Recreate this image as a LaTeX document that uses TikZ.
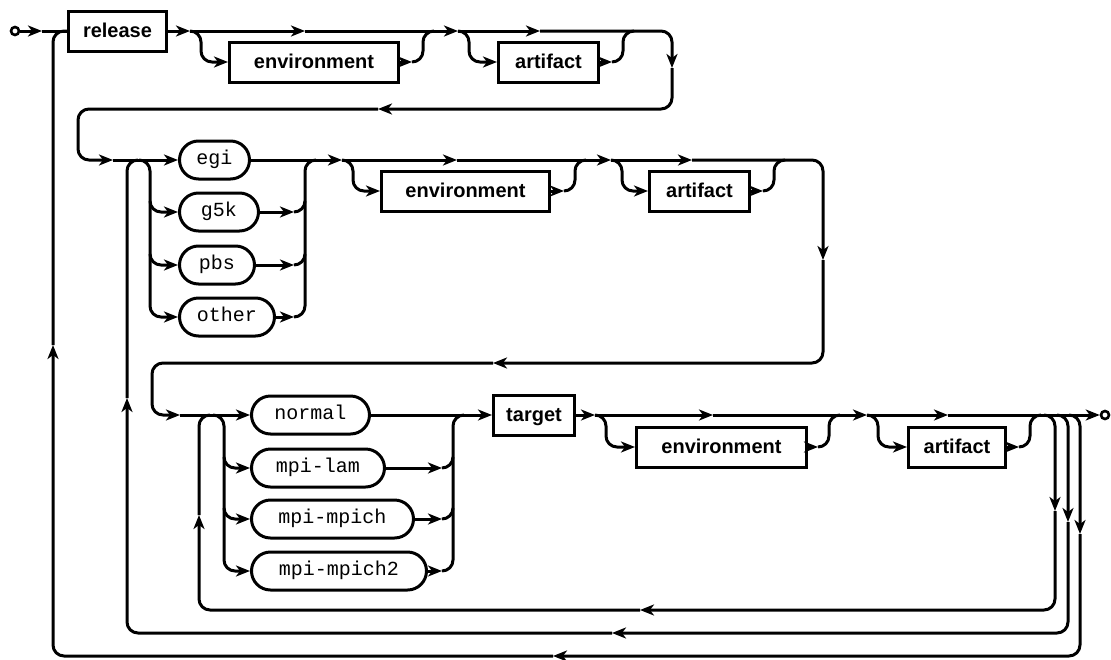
\documentclass[tikz,border=0pt]{standalone}
\usepackage{fontspec}
\newfontfamily\railsans{Liberation Sans}
\newfontfamily\railmono{Liberation Mono}
\usetikzlibrary{arrows.meta}
\tikzset{
  rail/.style={line width=3pt, line join=round},
  railtip/.style={-{Stealth[length=14pt,width=11pt,inset=4pt]}},
  railbend/.style={rounded corners=11pt},
  nt/.style={draw, line width=3pt, minimum height=40pt, inner sep=0pt, anchor=west,
    font=\railsans\bfseries\fontsize{20}{24}\selectfont, text height=15pt, text depth=3pt},
  tm/.style={draw, line width=3pt, rounded corners=19pt, minimum height=38pt, inner sep=0pt, anchor=west,
    font=\railmono\fontsize{20}{24}\selectfont, text height=10pt, text depth=2pt},
  term/.style={circle, draw, line width=2.6pt, fill=white, inner sep=0pt, minimum size=8pt},
}
\begin{document}
\begin{tikzpicture}[x=1pt,y=-1pt]
\useasboundingbox (0,0) rectangle (1111,659);

% ---------- nodes ----------
\node[nt, minimum width=98pt]  (release) at (67,31)  {release};
\node[nt, minimum width=169pt] (envA)    at (228,62) {environment};
\node[nt, minimum width=100pt] (artA)    at (497,62) {artifact};

\node[tm, minimum width=70pt] (egi)   at (178,160) {egi};
\node[tm, minimum width=79pt] (g5k)   at (178,212) {g5k};
\node[tm, minimum width=75pt] (pbs)   at (178,265) {pbs};
\node[tm, minimum width=95pt] (other) at (178,317) {other};
\node[nt, minimum width=168pt] (envB) at (380,191) {environment};
\node[nt, minimum width=100pt] (artB) at (648,191) {artifact};

\node[tm, minimum width=118pt] (normal) at (250,415) {normal};
\node[tm, minimum width=133pt] (lam)    at (250,468) {mpi-lam};
\node[tm, minimum width=162pt] (mpich)  at (250,519) {mpi-mpich};
\node[tm, minimum width=175pt] (mpich2) at (250,571) {mpi-mpich2};
\node[nt, minimum width=81pt]  (target) at (492,415) {target};
\node[nt, minimum width=170pt] (envC)   at (635,447) {environment};
\node[nt, minimum width=97pt]  (artC)   at (907,447) {artifact};

\node[term] (start) at (15,31) {};
\node[term] (stop)  at (1105,415) {};

% ---------- row 1 ----------
\draw[rail, railtip] (start.east) -- (42,31);
\draw[rail] (42,31) -- (release.west);
\draw[rail, railtip] (release.east) -- (190,31);
\draw[rail, railtip] (190,31) -- (305,31);
\draw[rail, railtip] (305,31) -- (458,31);
\draw[rail, railbend, railtip] (190,31) -| (201,62) -- (envA.west);
\draw[rail, railtip] (envA.east) -- (412,62);
\draw[rail, railbend] (412,62) -| (423,31) -- (434,31);
\draw[rail, railtip] (458,31) -- (540,31);
\draw[rail, railbend, railtip] (458,31) -| (469,62) -- (artA.west);
\draw[rail, railtip] (artA.east) -- (612,62);
\draw[rail, railbend] (612,62) -| (623,31) -- (634,31);
\draw[rail, railbend, railtip] (540,31) -| (672,68);
\draw[rail, railbend, railtip] (672,68) |- (378,109);
\draw[rail, railbend, railtip] (378,109) -| (78,160) -- (113,160);

% ---------- row 2 ----------
\draw[rail, railtip] (113,160) -- (egi.west);
\draw[rail, railbend, railtip] (139,160) -| (150,317) -- (other.west);
\draw[rail, railbend, railtip] (150,201) |- (g5k.west);
\draw[rail, railbend, railtip] (150,254) |- (pbs.west);
\draw[rail, railtip] (egi.east) -- (342,160);
\draw[rail, railtip] (g5k.east) -- (294,212);
\draw[rail, railbend] (294,212) -| (305,201);
\draw[rail, railtip] (pbs.east) -- (294,265);
\draw[rail, railbend] (294,265) -| (305,254);
\draw[rail, railtip] (other.east) -- (294,317);
\draw[rail, railbend] (294,317) -| (305,160) -- (316,160);

\draw[rail, railtip] (342,160) -- (457,160);
\draw[rail, railtip] (457,160) -- (611,160);
\draw[rail, railbend, railtip] (342,160) -| (353,191) -- (envB.west);
\draw[rail, railtip] (envB.east) -- (564,191);
\draw[rail, railbend] (564,191) -| (575,160) -- (586,160);
\draw[rail, railtip] (611,160) -- (692,160);
\draw[rail, railbend, railtip] (611,160) -| (622,191) -- (artB.west);
\draw[rail, railtip] (artB.east) -- (763,191);
\draw[rail, railbend] (763,191) -| (774,160) -- (785,160);
\draw[rail, railbend, railtip] (692,160) -| (823,260);
\draw[rail, railbend, railtip] (823,260) |- (493,363);
\draw[rail, railbend, railtip] (493,363) -| (152,415) -- (180,415);

% ---------- row 3 ----------
\draw[rail, railtip] (180,415) -- (normal.west);
\draw[rail, railbend, railtip] (213,415) -| (224,571) -- (mpich2.west);
\draw[rail, railbend, railtip] (224,457) |- (lam.west);
\draw[rail, railbend, railtip] (224,508) |- (mpich.west);
\draw[rail, railtip] (normal.east) -- (target.west);
\draw[rail, railtip] (lam.east) -- (442,468);
\draw[rail, railbend] (442,468) -| (453,457);
\draw[rail, railtip] (mpich.east) -- (442,519);
\draw[rail, railbend] (442,519) -| (453,508);
\draw[rail, railtip] (mpich2.east) -- (442,571);
\draw[rail, railbend] (442,571) -| (453,415) -- (464,415);

\draw[rail, railtip] (target.east) -- (595,415);
\draw[rail, railtip] (595,415) -- (713,415);
\draw[rail, railtip] (713,415) -- (867,415);
\draw[rail, railbend, railtip] (595,415) -| (606,447) -- (envC.west);
\draw[rail, railtip] (envC.east) -- (818,447);
\draw[rail, railbend] (818,447) -| (829,415) -- (840,415);
\draw[rail, railtip] (867,415) -- (948,415);
\draw[rail, railbend, railtip] (867,415) -| (878,447) -- (artC.west);
\draw[rail, railtip] (artC.east) -- (1019,447);
\draw[rail, railbend] (1019,447) -| (1030,415) -- (1041,415);
\draw[rail, railtip] (948,415) -- (stop.west);

% ---------- repetition loops ----------
\draw[rail, railbend, railtip] (1044,415) -| (1055,511);
\draw[rail, railbend, railtip] (1055,511) |- (640,610);
\draw[rail, railbend, railtip] (640,610) -| (199,515);
\draw[rail, railbend] (199,515) |- (210,415);

\draw[rail, railbend, railtip] (1057,415) -| (1068,522);
\draw[rail, railbend, railtip] (1068,522) |- (612,633);
\draw[rail, railbend, railtip] (612,633) -| (127,398);
\draw[rail, railbend] (127,398) |- (138,160);

\draw[rail, railbend, railtip] (1069,415) -| (1080,534);
\draw[rail, railbend, railtip] (1080,534) |- (553,656);
\draw[rail, railbend, railtip] (553,656) -| (53,345);
\draw[rail, railbend] (53,345) |- (release.west);
\end{tikzpicture}
\end{document}
